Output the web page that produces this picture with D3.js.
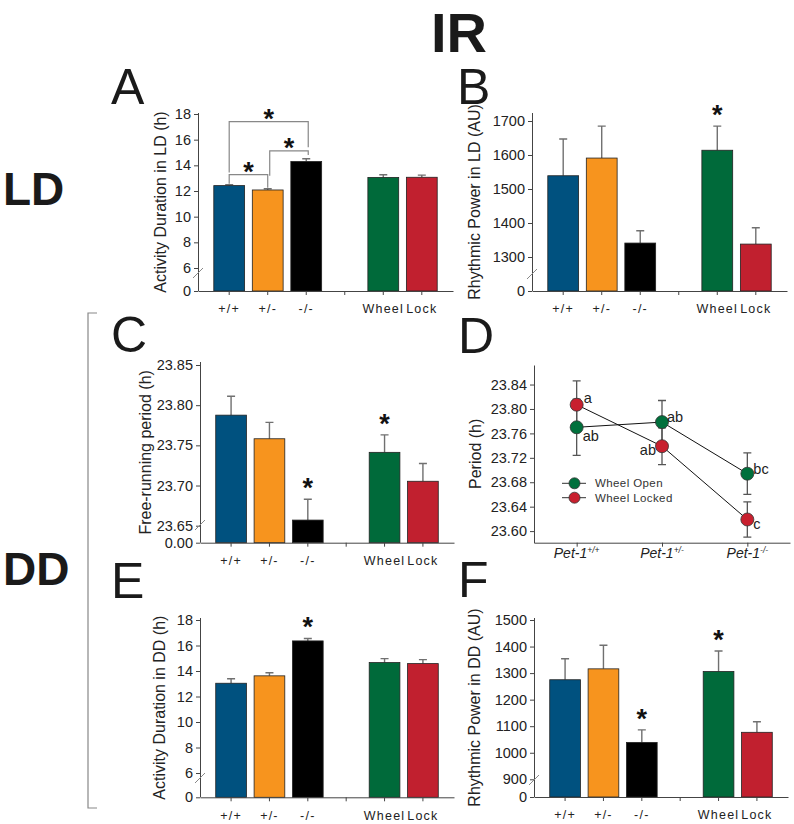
<!DOCTYPE html>
<html><head><meta charset="utf-8">
<script src="https://cdn.jsdelivr.net/npm/d3@7"></script>
<style>
body{margin:0;background:#fff}
svg{display:block}
text{font-family:"Liberation Sans",Arial,sans-serif}
</style>
</head><body>
<svg id="c" width="794" height="824"></svg>
<script>
// ---------- data ----------
const groups = ["+/+", "+/-", "-/-", " ", "Wheel", "Lock"];
const barColors = ["#00517f", "#f7941e", "#000000", null, "#006a3a", "#c1202f"];

const actLD    = [12.42, 12.08, 14.30, null, 13.06, 13.07];
const actLDErr = [0.08, 0.10, 0.21, null, 0.21, 0.17];
const powLD    = [1539, 1591, 1341, null, 1614, 1338];
const powLDErr = [108, 94, 36, null, 71, 48];
const freeRun    = [23.7876, 23.7582, 23.657, null, 23.7413, 23.7053];
const freeRunErr = [0.0236, 0.0204, 0.026, null, 0.0217, 0.0221];
const actDD    = [13.04, 13.62, 16.36, null, 14.66, 14.58];
const actDDErr = [0.35, 0.24, 0.19, null, 0.31, 0.31];
const powDD    = [1275, 1316, 1039, null, 1306, 1077];
const powDDErr = [79, 89, 47, null, 77, 40];

const ticksAct = [0, 6, 8, 10, 12, 14, 16, 18];
const ticksPowLD = [0, 1300, 1400, 1500, 1600, 1700];
const ticksFree = [0, 23.65, 23.70, 23.75, 23.80, 23.85];
const ticksPowDD = [0, 900, 1000, 1100, 1200, 1300, 1400, 1500];

const starsB = ["Wheel"];
const starsC = ["-/-", "Wheel"];
const starsE = ["-/-"];
const starsF = ["-/-", "Wheel"];

const bracketsA = [
  {from: "+/+", to: "+/-", level: 13.27, footFrom: 12.57, footTo: 12.26},
  {from: "+/-", to: "-/-", level: 15.13, footFrom: 13.19, footTo: 14.80},
  {from: "+/+", to: "-/-", level: 17.40, footFrom: 13.45, footTo: 15.40}
];

// panel D
const genotypes = ["+/+", "+/-", "-/-"];
const periodOpen      = [23.770, 23.7785, 23.694];
const periodOpenErr   = [0.046, 0.0354, 0.034];
const periodLocked    = [23.807, 23.739, 23.619];
const periodLockedErr = [0.039, 0.030, 0.029];
const lettersOpen   = ["ab", "ab", "bc"];
const lettersLocked = ["a", "ab", "c"];
const ticksD = [23.60, 23.64, 23.68, 23.72, 23.76, 23.80, 23.84];
const seriesD = ["Wheel Open", "Wheel Locked"];
const colorsD = ["#00703c", "#c8202f"];

// ---------- drawing ----------
const svg = d3.select("#c");
const AX = "#444", ERR = "#707070";
const TICKFS = "14.5px";

function barPanel(p) {
  const g = svg.append("g");
  const x = d3.scaleBand().domain(groups).range([p.x0, p.x1]).paddingInner(0.2).paddingOuter(0.41);
  const y = d3.scaleLinear().domain(p.domain).range(p.range);
  const base = y(0);
  const data = groups.map((k, i) => ({k, v: p.values[i], e: p.errs[i], c: barColors[i]})).filter(d => d.v != null);
  const cx = d => x(d.k) + x.bandwidth() / 2;

  g.selectAll(".eb").data(data).join("path")
    .attr("d", d => `M${cx(d)},${y(d.v)}V${y(d.v + d.e)}M${cx(d) - 4},${y(d.v + d.e)}H${cx(d) + 4}`)
    .attr("stroke", ERR).attr("stroke-width", 1.4).attr("fill", "none");
  g.selectAll(".bar").data(data).join("rect")
    .attr("x", d => x(d.k)).attr("width", x.bandwidth())
    .attr("y", d => y(d.v)).attr("height", d => base - y(d.v))
    .attr("fill", d => d.c).attr("stroke", "#222").attr("stroke-width", 0.8);

  const ya = g.append("g").attr("transform", `translate(${p.x0},0)`)
    .call(d3.axisLeft(y).tickValues(p.ticks).tickFormat(p.fmt).tickSize(4).tickPadding(3).tickSizeOuter(0));
  ya.select(".domain").attr("d", `M0.5,${p.yTop}V${base}`).attr("stroke", AX);
  ya.selectAll(".tick line").attr("stroke", AX);
  ya.selectAll(".tick text").attr("fill", "#222").style("font-size", TICKFS).style("font-family", "Liberation Sans, Arial, sans-serif");

  const xa = g.append("g").attr("transform", `translate(0,${base})`)
    .call(d3.axisBottom(x).tickSize(4).tickPadding(9.5).tickSizeOuter(0));
  xa.select(".domain").attr("stroke", AX);
  xa.selectAll(".tick line").attr("stroke", AX);
  xa.selectAll(".tick text").attr("fill", "#222").style("font-size", "12.5px")
    .style("letter-spacing", "1.2px").style("font-family", "Liberation Sans, Arial, sans-serif");

  g.append("line").attr("x1", p.x0 - 5).attr("y1", p.breakY + 5).attr("x2", p.x0 + 5).attr("y2", p.breakY - 5)
    .attr("stroke", "#888").attr("stroke-width", 1);

  g.append("text").attr("transform", `translate(${p.titleX},${(p.yTop + base) / 2}) rotate(-90)`)
    .attr("text-anchor", "middle").attr("dominant-baseline", "central")
    .style("font-size", "16px").attr("fill", "#222").text(p.title);

  const sd = data.filter(d => (p.stars || []).includes(d.k));
  g.selectAll(".star").data(sd).join("text")
    .attr("x", cx).attr("y", d => y(d.v + d.e) - 2)
    .attr("text-anchor", "middle").style("font-size", "27px").style("font-weight", "bold")
    .attr("fill", "#111").text("*");
  return {x, y, g, cx: k => x(k) + x.bandwidth() / 2};
}

const fmtInt = d3.format("d");
const A = barPanel({x0: 198, x1: 453, domain: [0, 6, 18], range: [291, 268, 114], yTop: 113, ticks: ticksAct, fmt: fmtInt,
  values: actLD, errs: actLDErr, title: "Activity Duration in LD (h)", titleX: 160, breakY: 273});
barPanel({x0: 532, x1: 787, domain: [0, 1300, 1700], range: [291, 257, 121], yTop: 113, ticks: ticksPowLD, fmt: fmtInt,
  values: powLD, errs: powLDErr, title: "Rhythmic Power in LD (AU)", titleX: 474, breakY: 274, stars: starsB});
barPanel({x0: 200, x1: 454, domain: [0, 23.65, 23.85], range: [542.7, 525.7, 365], yTop: 362, ticks: ticksFree, fmt: d3.format(".2f"),
  values: freeRun, errs: freeRunErr, title: "Free-running period (h)", titleX: 145, breakY: 525, stars: starsC});
barPanel({x0: 200, x1: 454, domain: [0, 6, 18], range: [797.3, 773, 620], yTop: 618, ticks: ticksAct, fmt: fmtInt,
  values: actDD, errs: actDDErr, title: "Activity Duration in DD (h)", titleX: 159, breakY: 778, stars: starsE});
barPanel({x0: 534, x1: 788, domain: [0, 900, 1500], range: [797, 779.3, 620], yTop: 618, ticks: ticksPowDD, fmt: fmtInt,
  values: powDD, errs: powDDErr, title: "Rhythmic Power in DD (AU)", titleX: 474, breakY: 780, stars: starsF});

bracketsA.forEach((b, i) => {
  const xa = A.cx(b.from) + (i === 1 ? 2 : 0), xb = A.cx(b.to) + (i === 0 ? 0 : 2);
  const yl = A.y(b.level);
  A.g.append("path")
    .attr("d", `M${xa},${A.y(b.footFrom)}V${yl}H${xb}V${A.y(b.footTo)}`)
    .attr("fill", "none").attr("stroke", "#888").attr("stroke-width", 1.2);
  A.g.append("text").attr("x", (xa + xb) / 2).attr("y", yl + 6)
    .attr("text-anchor", "middle").style("font-size", "27px").style("font-weight", "bold")
    .attr("fill", "#111").text("*");
});

// ---------- panel D ----------
(function () {
  const g = svg.append("g");
  const x = d3.scalePoint().domain(genotypes).range([534, 790]).padding(0.5);
  const y = d3.scaleLinear().domain([23.581, 23.872]).range([542.7, 365]);
  const ya = g.append("g").attr("transform", "translate(534,0)")
    .call(d3.axisLeft(y).tickValues(ticksD).tickFormat(d3.format(".2f")).tickSize(4).tickPadding(3).tickSizeOuter(0));
  ya.select(".domain").attr("stroke", AX);
  ya.selectAll(".tick line").attr("stroke", AX);
  ya.selectAll(".tick text").attr("fill", "#222").style("font-size", TICKFS).style("font-family", "Liberation Sans, Arial, sans-serif");
  const xa = g.append("g").attr("transform", "translate(0,542.7)")
    .call(d3.axisBottom(x).tickSize(4).tickSizeOuter(0).tickFormat(""));
  xa.select(".domain").attr("stroke", AX);
  xa.selectAll(".tick line").attr("stroke", AX);
  genotypes.forEach(gt => {
    const t = g.append("text").attr("x", x(gt)).attr("y", 558).attr("text-anchor", "middle")
      .style("font-size", "14px").style("font-style", "italic").attr("fill", "#222");
    t.append("tspan").text("Pet-1");
    t.append("tspan").attr("dy", -5).style("font-size", "8.5px").text(gt);
  });
  g.append("text").attr("transform", `translate(475,${(365 + 542.7) / 2}) rotate(-90)`)
    .attr("text-anchor", "middle").attr("dominant-baseline", "central")
    .style("font-size", "16px").attr("fill", "#222").text("Period (h)");

  const series = [
    {vals: periodOpen, errs: periodOpenErr, col: colorsD[0], letters: lettersOpen,
     off: [[6, 14, "start"], [5, 0, "start"], [6, 0, "start"]]},
    {vals: periodLocked, errs: periodLockedErr, col: colorsD[1], letters: lettersLocked,
     off: [[7, -2, "start"], [-6, 9, "end"], [6, 10, "start"]]}
  ];
  series.forEach(s => {
    genotypes.forEach((gt, i) => {
      const cx = x(gt), v = s.vals[i], e = s.errs[i];
      g.append("path").attr("d", `M${cx},${y(v - e)}V${y(v + e)}M${cx - 4},${y(v + e)}H${cx + 4}M${cx - 4},${y(v - e)}H${cx + 4}`)
        .attr("stroke", "#555").attr("stroke-width", 1.3).attr("fill", "none");
    });
  });
  series.forEach(s => {
    g.append("path").datum(s.vals)
      .attr("d", d3.line().x((d, i) => x(genotypes[i])).y(d => y(d)))
      .attr("fill", "none").attr("stroke", "#111").attr("stroke-width", 1);
  });
  series.forEach(s => {
    g.selectAll(null).data(s.vals).join("circle")
      .attr("cx", (d, i) => x(genotypes[i])).attr("cy", d => y(d)).attr("r", 6.5)
      .attr("fill", s.col).attr("stroke", "#333").attr("stroke-width", 0.8);
    s.vals.forEach((v, i) => {
      const o = s.off[i];
      g.append("text").attr("x", x(genotypes[i]) + o[0]).attr("y", y(v) + o[1])
        .attr("text-anchor", o[2]).style("font-size", "14.5px").attr("fill", "#222").text(s.letters[i]);
    });
  });
  seriesD.forEach((name, i) => {
    const ly = 483.3 + i * 14.4;
    g.append("line").attr("x1", 562).attr("x2", 586).attr("y1", ly).attr("y2", ly).attr("stroke", "#333");
    g.append("circle").attr("cx", 574.5).attr("cy", ly).attr("r", 5.5).attr("fill", colorsD[i]).attr("stroke", "#333").attr("stroke-width", 0.8);
    g.append("text").attr("x", 595).attr("y", ly + 4).style("font-size", "11.5px").style("letter-spacing", "0.4px")
      .attr("fill", "#333").text(name);
  });
})();

// ---------- big labels ----------
svg.append("text").attr("x", 459).attr("y", 52).attr("text-anchor", "middle")
  .style("font-size", "56px").style("font-weight", "bold").attr("fill", "#1a1a1a").text("IR");
[["A", 111, 104], ["B", 457, 104], ["C", 111, 352], ["D", 458, 353], ["E", 111, 598], ["F", 458, 597]].forEach(([t, lx, ly]) => {
  svg.append("text").attr("x", lx).attr("y", ly).style("font-size", "50px").attr("fill", "#1a1a1a").text(t);
});
svg.append("text").attr("x", 3).attr("y", 205).style("font-size", "46px").style("font-weight", "bold").attr("fill", "#1a1a1a").text("LD");
svg.append("text").attr("x", 3).attr("y", 585).style("font-size", "46px").style("font-weight", "bold").attr("fill", "#1a1a1a").text("DD");
svg.append("path").attr("d", "M97,313H88V808H97").attr("fill", "none").attr("stroke", "#888").attr("stroke-width", 1.2);
</script>
</body></html>
